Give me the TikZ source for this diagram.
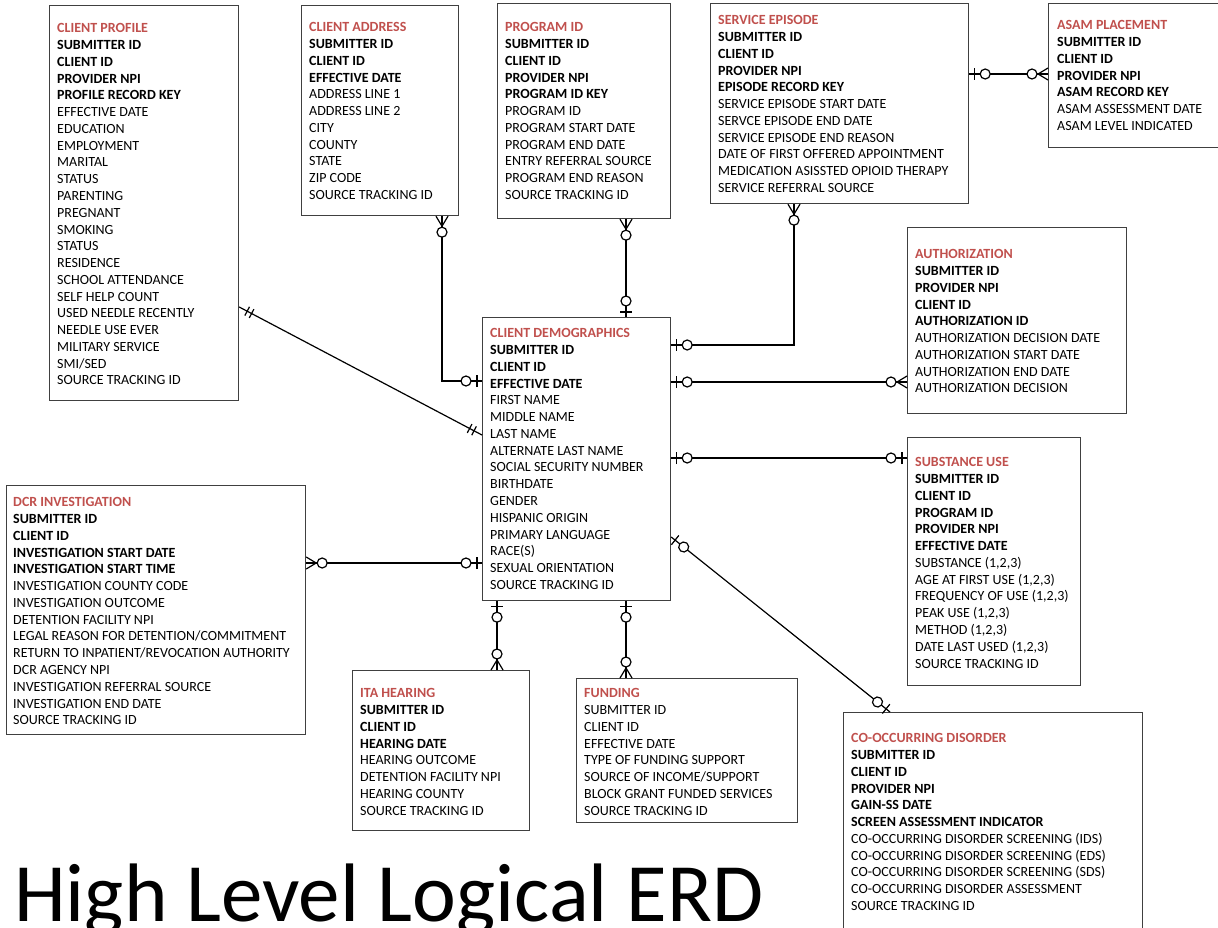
\documentclass[tikz,border=0pt]{standalone}
\usepackage{fontspec}
\setmainfont{Carlito}
\usetikzlibrary{decorations.markings}

\definecolor{titlered}{HTML}{C0504D}
\definecolor{boxgray}{HTML}{404040}

\newcommand{\etitle}[1]{\textcolor{titlered}{\textbf{#1}}}
% relationship ends, drawn with the line arriving from the left
\newcommand{\zeroone}{\draw (-5pt,-6pt) -- (-5pt,6pt); \draw[fill=white] (-16pt,0pt) circle (5pt);}
\newcommand{\zeromany}{\draw (-10pt,0pt) -- (0pt,6pt) (-10pt,0pt) -- (0pt,-6pt); \draw[fill=white] (-16pt,0pt) circle (5pt);}
\newcommand{\onlyone}{\draw (-9pt,-5pt) -- (-9pt,5pt) (-14pt,-5pt) -- (-14pt,5pt);}

\tikzset{
  entity/.style={draw=boxgray, line width=1.2pt, anchor=north west, inner sep=0pt},
  fields/.style={anchor=north west, align=left, inner sep=0pt, font=\fontsize{14}{16.76}\selectfont},
  relation/.style={draw=black, line width=1.2pt},
  tailend/.style={postaction={decorate, decoration={markings, mark=at position 0 with {\begin{scope}[xscale=-1]#1\end{scope}}}}},
  headend/.style={postaction={decorate, decoration={markings, mark=at position 1 with {#1}}}},
}

\begin{document}
\begin{tikzpicture}[x=1pt, y=-1pt]

\useasboundingbox (0, 0) rectangle (1218, 928);

\begin{scope}[every node/.style={entity}]
    \node (profile) at (49, 5) [minimum width=189pt, minimum height=395pt] {};
    \node (address) at (301, 5) [minimum width=157pt, minimum height=210pt] {};
    \node (program) at (497, 3) [minimum width=173pt, minimum height=215pt] {};
    \node (service) at (710, 3) [minimum width=258pt, minimum height=200pt] {};
    \node (asam) at (1048, 3) [minimum width=172pt, minimum height=144pt] {};

    \node (demog) at (482, 317) [minimum width=188pt, minimum height=283pt] {};
    \node (auth) at (907, 227) [minimum width=219pt, minimum height=186pt] {};
    \node (subst) at (907, 437) [minimum width=173pt, minimum height=248pt] {};
    \node (dcr) at (6, 485) [minimum width=299pt, minimum height=249pt] {};

    \node (ita) at (352, 670) [minimum width=177pt, minimum height=160pt] {};
    \node (funding) at (576, 678) [minimum width=221pt, minimum height=144pt] {};
    \node (cooc) at (843, 712) [minimum width=299pt, minimum height=240pt] {};
\end{scope}

\begin{scope}[every node/.style={fields}]
    \node (profiletext) at (57, 23.5) {\etitle{CLIENT PROFILE}\\
        \textbf{SUBMITTER ID}\\ \textbf{CLIENT ID}\\ \textbf{PROVIDER NPI}\\ \textbf{PROFILE RECORD KEY}\\
        EFFECTIVE DATE\\ EDUCATION\\ EMPLOYMENT\\ MARITAL\\ STATUS\\ PARENTING\\ PREGNANT\\
        SMOKING\\ STATUS\\ RESIDENCE\\ SCHOOL ATTENDANCE\\ SELF HELP COUNT\\ USED NEEDLE RECENTLY\\
        NEEDLE USE EVER\\ MILITARY SERVICE\\ SMI/SED\\ SOURCE TRACKING ID};
    \node (addresstext) at (309, 22.5) {\etitle{CLIENT ADDRESS}\\
        \textbf{SUBMITTER ID}\\ \textbf{CLIENT ID}\\ \textbf{EFFECTIVE DATE}\\
        ADDRESS LINE 1\\ ADDRESS LINE 2\\ CITY\\ COUNTY\\ STATE\\ ZIP CODE\\ SOURCE TRACKING ID};
    \node (programtext) at (505, 22.5) {\etitle{PROGRAM ID}\\
        \textbf{SUBMITTER ID}\\ \textbf{CLIENT ID}\\ \textbf{PROVIDER NPI}\\ \textbf{PROGRAM ID KEY}\\
        PROGRAM ID\\ PROGRAM START DATE\\ PROGRAM END DATE\\ ENTRY REFERRAL SOURCE\\
        PROGRAM END REASON\\ SOURCE TRACKING ID};
    \node (servicetext) at (718, 15.5) {\etitle{SERVICE EPISODE}\\
        \textbf{SUBMITTER ID}\\ \textbf{CLIENT ID}\\ \textbf{PROVIDER NPI}\\ \textbf{EPISODE RECORD KEY}\\
        SERVICE EPISODE START DATE\\ SERVCE EPISODE END DATE\\ SERVICE EPISODE END REASON\\
        DATE OF FIRST OFFERED APPOINTMENT\\ MEDICATION ASISSTED OPIOID THERAPY\\ SERVICE REFERRAL SOURCE};
    \node (asamtext) at (1057, 20.5) {\etitle{ASAM PLACEMENT}\\
        \textbf{SUBMITTER ID}\\ \textbf{CLIENT ID}\\ \textbf{PROVIDER NPI}\\ \textbf{ASAM RECORD KEY}\\
        ASAM ASSESSMENT DATE\\ ASAM LEVEL INDICATED};
    \node (demogtext) at (490, 328.5) {\etitle{CLIENT DEMOGRAPHICS}\\
        \textbf{SUBMITTER ID}\\ \textbf{CLIENT ID}\\ \textbf{EFFECTIVE DATE}\\
        FIRST NAME\\ MIDDLE NAME\\ LAST NAME\\ ALTERNATE LAST NAME\\ SOCIAL SECURITY NUMBER\\
        BIRTHDATE\\ GENDER\\ HISPANIC ORIGIN\\ PRIMARY LANGUAGE\\ RACE(S)\\ SEXUAL ORIENTATION\\
        SOURCE TRACKING ID};
    \node (authtext) at (915, 249.5) {\etitle{AUTHORIZATION}\\
        \textbf{SUBMITTER ID}\\ \textbf{PROVIDER NPI}\\ \textbf{CLIENT ID}\\ \textbf{AUTHORIZATION ID}\\
        AUTHORIZATION DECISION DATE\\ AUTHORIZATION START DATE\\ AUTHORIZATION END DATE\\
        AUTHORIZATION DECISION};
    \node (substtext) at (915, 457.5) {\etitle{SUBSTANCE USE}\\
        \textbf{SUBMITTER ID}\\ \textbf{CLIENT ID}\\ \textbf{PROGRAM ID}\\ \textbf{PROVIDER NPI}\\
        \textbf{EFFECTIVE DATE}\\ SUBSTANCE (1,2,3)\\ AGE AT FIRST USE (1,2,3)\\
        FREQUENCY OF USE (1,2,3)\\ PEAK USE (1,2,3)\\ METHOD (1,2,3)\\ DATE LAST USED (1,2,3)\\
        SOURCE TRACKING ID};
    \node (dcrtext) at (13, 497.5) {\etitle{DCR INVESTIGATION}\\
        \textbf{SUBMITTER ID}\\ \textbf{CLIENT ID}\\ \textbf{INVESTIGATION START DATE}\\
        \textbf{INVESTIGATION START TIME}\\ INVESTIGATION COUNTY CODE\\ INVESTIGATION OUTCOME\\
        DETENTION FACILITY NPI\\ LEGAL REASON FOR DETENTION/COMMITMENT\\
        RETURN TO INPATIENT/REVOCATION AUTHORITY\\ DCR AGENCY NPI\\
        INVESTIGATION REFERRAL SOURCE\\ INVESTIGATION END DATE\\ SOURCE TRACKING ID};
    \node (itatext) at (360, 688.5) {\etitle{ITA HEARING}\\
        \textbf{SUBMITTER ID}\\ \textbf{CLIENT ID}\\ \textbf{HEARING DATE}\\
        HEARING OUTCOME\\ DETENTION FACILITY NPI\\ HEARING COUNTY\\ SOURCE TRACKING ID};
    \node (fundingtext) at (584, 688.5) {\etitle{FUNDING}\\
        SUBMITTER ID\\ CLIENT ID\\ EFFECTIVE DATE\\ TYPE OF FUNDING SUPPORT\\
        SOURCE OF INCOME/SUPPORT\\ BLOCK GRANT FUNDED SERVICES\\ SOURCE TRACKING ID};
    \node (cooctext) at (851, 733.5) {\etitle{CO-OCCURRING DISORDER}\\
        \textbf{SUBMITTER ID}\\ \textbf{CLIENT ID}\\ \textbf{PROVIDER NPI}\\ \textbf{GAIN-SS DATE}\\
        \textbf{SCREEN ASSESSMENT INDICATOR}\\ CO-OCCURRING DISORDER SCREENING (IDS)\\
        CO-OCCURRING DISORDER SCREENING (EDS)\\ CO-OCCURRING DISORDER SCREENING (SDS)\\
        CO-OCCURRING DISORDER ASSESSMENT\\ SOURCE TRACKING ID};
\end{scope}

\begin{scope}[every path/.style={relation}]
    \draw [tailend=\onlyone, headend=\onlyone] (profile.east |- 0,307) -- (demog.west |- 0,435);
    \draw [tailend=\zeromany, headend=\zeroone] (address.south -| 442,0) |- (demog.west |- 0,381);
    \draw [tailend=\zeromany, headend=\zeroone] (program.south -| 626,0) -- (demog.north -| 626,0);
    \draw [tailend=\zeromany, headend=\zeroone] (service.south -| 794,0) |- (demog.east |- 0,345);
    \draw [tailend=\zeroone, headend=\zeromany] (service.east |- 0,74) -- (asam.west |- 0,74);

    \draw [tailend=\zeroone, headend=\zeromany] (demog.east |- 0,382) -- (auth.west |- 0,382);
    \draw [tailend=\zeroone, headend=\zeroone] (demog.east |- 0,458) -- (subst.west |- 0,458);
    \draw [tailend=\zeroone, headend=\zeroone] (demog.east |- 0,537) -- (cooc.north -| 890,0);
    \draw [tailend=\zeromany, headend=\zeroone] (dcr.east |- 0,563) -- (demog.west |- 0,563);

    \draw [tailend=\zeroone, headend=\zeromany] (demog.south -| 497,0) -- (ita.north -| 497,0);
    \draw [tailend=\zeroone, headend=\zeromany] (demog.south -| 626,0) -- (funding.north -| 626,0);
\end{scope}

\node (erdtitle) at (14, 921.5) [anchor=base west, inner sep=0pt, font=\fontsize{83}{90}\selectfont] {High Level Logical ERD};

\end{tikzpicture}
\end{document}
